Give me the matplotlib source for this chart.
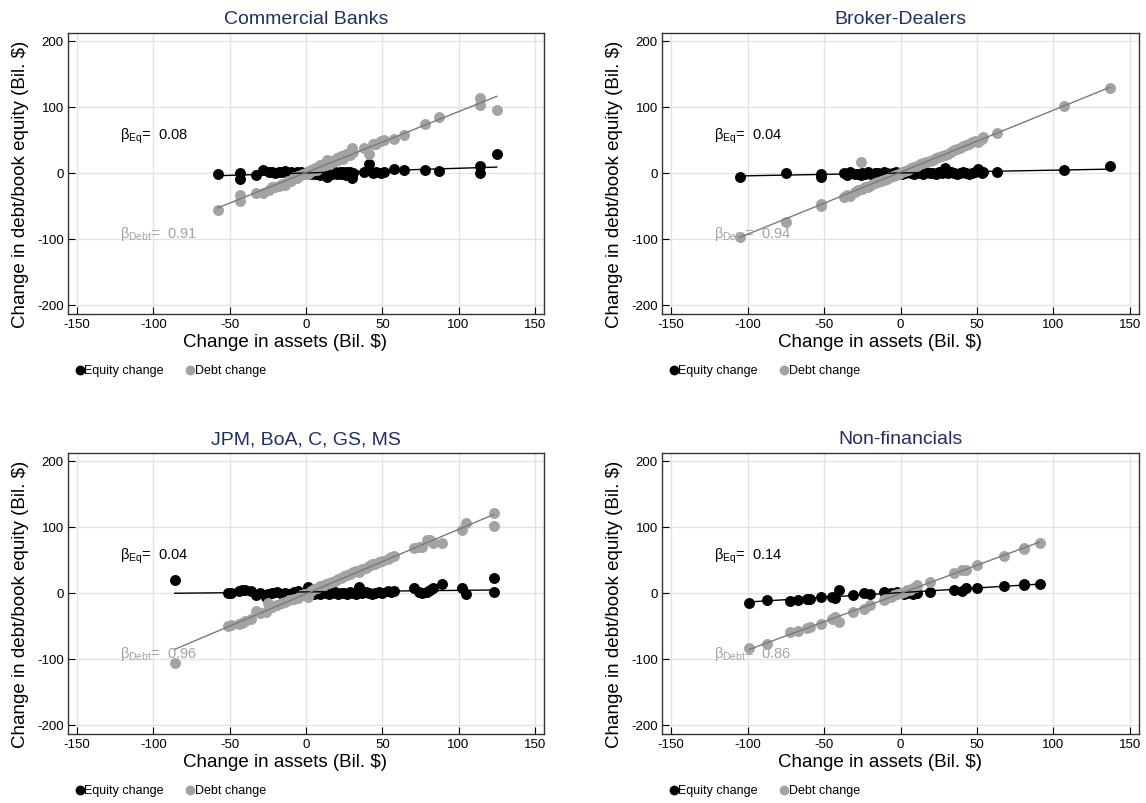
import numpy as np
import matplotlib
matplotlib.use("Agg")
import matplotlib.pyplot as plt

plt.rcParams['font.family'] = ['Liberation Sans', 'DejaVu Sans']
plt.rcParams['mathtext.fontset'] = 'custom'
plt.rcParams['mathtext.rm'] = 'Liberation Sans'
plt.rcParams['mathtext.it'] = 'Liberation Sans'
plt.rcParams['axes.unicode_minus'] = False

# Commercial banks: change in assets, equity, debt (Bil. $)
cb_assets = [-58, -43, -43, -33, -28, -24, -22, -20, -18, -16, -14, -12, -10, -8, -6, -5, -3, -2,
             0, 1, 2, 3, 4, 5, 6, 7, 8, 9, 10, 11, 12, 13, 14, 15, 16, 17, 18, 19, 20, 21, 22, 23,
             24, 25, 26, 27, 28, 29, 30, 31, 38, 41, 44, 46, 49, 51, 58, 64, 78, 87, 114, 114, 125]
cb_equity = [-2, 0, -10, -3, 4, 2, 1, 0, 2, 1, 3, 0, 1, -1, 2, 0, 1, -1,
             0, 2, 0, -2, 1, 0, -1, 2, 0, -3, 1, 0, -2, 1, -6, 0, 2, -1, 0, 1, -2, 0, 1, -1,
             2, 0, -3, 1, 0, 2, -8, 0, 1, 14, 0, 1, 0, 1, 6, 4, 4, 3, 11, 0, 28]
cb_debt = [-56, -33, -42, -30, -30, -26, -22, -21, -20, -17, -18, -13, -12, -7, -8, -5, -4, -1,
           0, -1, 3, 5, 3, 6, 7, 5, 9, 12, 9, 12, 14, 12, 20, 16, 14, 18, 17, 18, 22, 20, 22, 25,
           21, 26, 29, 27, 30, 27, 38, 31, 37, 29, 44, 44, 48, 50, 52, 58, 74, 85, 103, 113, 96]

# Broker-dealers
bd_assets = [-105, -75, -52, -52, -37, -35, -33, -30, -28, -26, -25, -23, -21, -19, -17, -15, -13,
             -11, -9, -7, -5, -3, -1, 1, 3, 5, 7, 9, 11, 13, 15, 17, 19, 21, 23, 25, 27, 29, 31,
             33, 35, 37, 39, 41, 43, 45, 47, 49, 51, 53, 54, 63, 107, 137]
bd_equity = [-6, 0, -1, -6, 0, -4, 1, -2, -1, -3, 0, -2, 1, -1, 0, 0, -2,
             1, 0, -1, 0, 1, 0, -1, 0, 1, 0, -1, 1, 0, -1, 1, 0, 0, -1, 1, 0, 7, 0,
             1, 0, -1, 0, 1, 0, -1, 0, 1, 6, 0, 2, 2, 4, 10]
bd_debt = [-98, -75, -47, -51, -36, -33, -35, -29, -26, 16, -24, -22, -21, -18, -16, -14, -12,
           -11, -9, -6, -5, -3, -1, 1, 3, 5, 7, 9, 10, 13, 15, 16, 18, 20, 22, 24, 26, 27, 29,
           32, 34, 36, 38, 40, 42, 44, 46, 48, 47, 51, 54, 61, 102, 128]

# JPM, BoA, C, GS, MS
big_assets = [-86, -51, -49, -44, -42, -40, -36, -33, -30, -26, -25, -22, -19, -16, -14, -11, -8,
              -5, -3, -1, 1, 3, 5, 7, 9, 11, 13, 15, 17, 19, 21, 23, 25, 27, 29, 31, 33, 35, 37,
              39, 41, 43, 45, 48, 50, 54, 56, 58, 71, 74, 76, 79, 81, 83, 89, 102, 105, 123, 123]
big_equity = [19, 0, 0, 3, 4, 4, 3, -4, 0, -6, -1, 0, 2, -1, 0, -1, 1,
              3, 0, -2, 9, 0, -1, 0, -2, 1, 0, -1, 0, 1, -1, 0, 0, -1, 1, 0, -1, 9, 0,
              1, 0, -1, 0, 1, 0, 3, 1, 3, 7, 2, 0, 2, 4, 7, 14, 8, -1, 22, 1]
big_debt = [-106, -51, -49, -47, -46, -43, -40, -28, -31, -29, -16, -22, -19, -16, -14, -11, -9,
            -8, -3, -1, -6, 3, 6, 7, 10, 10, 13, 15, 17, 18, 21, 23, 25, 27, 29, 31, 33, 32, 36,
            38, 40, 43, 44, 47, 49, 51, 54, 56, 68, 70, 69, 80, 80, 75, 75, 95, 106, 101, 121]

# Non-financials
nf_assets = [-99, -87, -72, -67, -61, -59, -52, -45, -43, -40, -31, -24, -20, -11, -10, -6, -4, -2,
             0, 2, 4, 6, 8, 10, 11, 19, 35, 40, 43, 50, 68, 81, 81, 91]
nf_equity = [-15, -11, -12, -11, -9, -10, -6, -7, -8, 4, -4, 0, -1, 1, 0, 0, -1, 1,
             0, -1, 0, 1, -1, 0, 0, 2, 4, 3, 8, 8, 11, 13, 12, 13]
nf_debt = [-84, -77, -60, -58, -54, -52, -47, -39, -36, -44, -29, -24, -19, -11, -9, -6, -4, -2,
           0, 2, 4, 5, 8, 9, 12, 17, 30, 34, 34, 42, 56, 68, 67, 76]

titles = ['Commercial Banks', 'Broker-Dealers', 'JPM, BoA, C, GS, MS', 'Non-financials']
beta_eq = ['0.08', '0.04', '0.04', '0.14']
beta_debt = ['0.91', '0.94', '0.96', '0.86']
panels = [(cb_assets, cb_equity, cb_debt), (bd_assets, bd_equity, bd_debt),
          (big_assets, big_equity, big_debt), (nf_assets, nf_equity, nf_debt)]

W, H = 1146, 804
fig = plt.figure(figsize=(W / 100, H / 100), dpi=100)

# axes boxes in pixels: left, top, right, bottom
boxes = [(68, 34, 544, 315), (662, 34, 1139, 315), (68, 454, 544, 735), (662, 454, 1139, 735)]

eq_col = 'black'
debt_col = '#a3a3a3'
title_col = '#1f3060'

for i, ((x, eq, debt), (l, t, r, b)) in enumerate(zip(panels, boxes)):
    ax = fig.add_axes([l / W, (H - b) / H, (r - l) / W, (b - t) / H])
    x = np.array(x)
    ax.scatter(x, eq, s=62, color=eq_col, zorder=3, linewidths=0, label='Equity change')
    ax.scatter(x, debt, s=62, color=debt_col, zorder=3, linewidths=0, label='Debt change')
    xs = np.array([x.min(), x.max()])
    p_eq = np.polyfit(x, eq, 1)
    p_debt = np.polyfit(x, debt, 1)
    ax.plot(xs, np.polyval(p_eq, xs), color='black', lw=1.0, zorder=4)
    ax.plot(xs, np.polyval(p_debt, xs), color='#7a7a7a', lw=1.0, zorder=4)

    ax.text(-122, 57, r'$\mathregular{β_{Eq}}$=  ' + beta_eq[i], fontsize=10.5, color='black',
            va='center', ha='left')
    ax.text(-122, -91, r'$\mathregular{β_{Debt}}$=  ' + beta_debt[i], fontsize=10.5, color=debt_col,
            va='center', ha='left')

    ax.set_xlim(-156, 156)
    ax.set_ylim(-214, 212)
    ax.set_xticks([-150, -100, -50, 0, 50, 100, 150])
    ax.set_yticks([-200, -100, 0, 100, 200])
    ax.grid(True, color='#e3e3e3', lw=1)
    ax.set_axisbelow(True)
    ax.tick_params(direction='in', length=5, labelsize=9.5, width=0.8, pad=3)
    for sp in ax.spines.values():
        sp.set_color('#333333')
        sp.set_linewidth(1)
    ax.set_title(titles[i], fontsize=14, color=title_col, pad=7)
    ax.set_xlabel('Change in assets (Bil. $)', fontsize=13.5)
    ax.xaxis.set_label_coords(0.456, -0.068)
    ax.set_ylabel('Change in debt/book equity (Bil. $)', fontsize=13.5)
    ax.yaxis.set_label_coords(-0.082, 0.466)

    leg_y = (H - (b + 56)) / H
    ax.legend(loc='center left', bbox_to_anchor=((l - 1) / W, leg_y), bbox_transform=fig.transFigure,
              ncol=2, frameon=False, fontsize=9, handletextpad=-0.1, columnspacing=1.6,
              handlelength=1.0, markerscale=0.9, borderpad=0)

fig.savefig('out.png', dpi=100)
